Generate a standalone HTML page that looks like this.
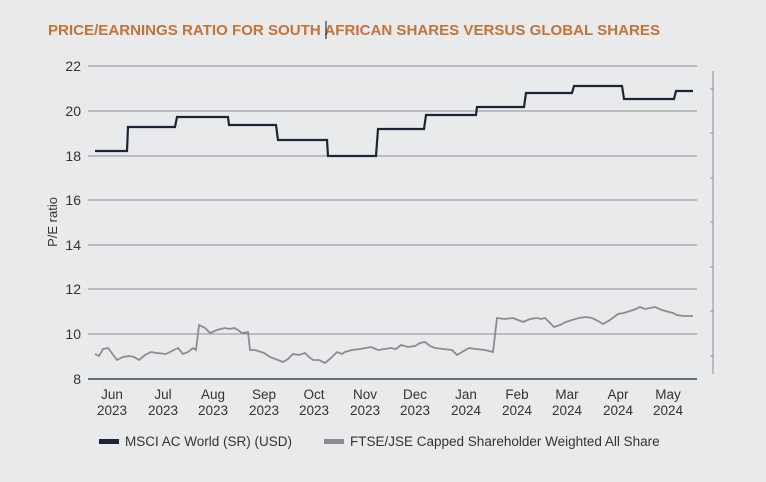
<!DOCTYPE html><html><head><style>
body{margin:0;background:#e9eaec;}
svg{display:block;font-family:"Liberation Sans",sans-serif;}
</style></head><body>
<svg width="766" height="482" viewBox="0 0 766 482">
<rect width="766" height="482" fill="#e9eaec"/>
<text x="48" y="35" font-size="15" font-weight="bold" fill="#c47236" textLength="612" lengthAdjust="spacingAndGlyphs">PRICE/EARNINGS RATIO FOR SOUTH AFRICAN SHARES VERSUS GLOBAL SHARES</text>
<line x1="326" y1="21" x2="326" y2="39" stroke="#111" stroke-width="1"/>
<g stroke="#8a8d92" stroke-width="1">
<line x1="88" y1="66" x2="697" y2="66"/><line x1="88" y1="111" x2="697" y2="111"/>
<line x1="88" y1="156" x2="697" y2="156"/><line x1="88" y1="200" x2="697" y2="200"/>
<line x1="88" y1="245" x2="697" y2="245"/><line x1="88" y1="289" x2="697" y2="289"/>
<line x1="88" y1="334" x2="697" y2="334"/>
<line x1="713" y1="71" x2="713" y2="374"/>
<line x1="710" y1="89" x2="713" y2="89"/><line x1="710" y1="133" x2="713" y2="133"/>
<line x1="710" y1="178" x2="713" y2="178"/><line x1="710" y1="222" x2="713" y2="222"/>
<line x1="710" y1="267" x2="713" y2="267"/><line x1="710" y1="311" x2="713" y2="311"/>
<line x1="710" y1="356" x2="713" y2="356"/>
</g>
<line x1="88" y1="379" x2="697" y2="379" stroke="#1c2333" stroke-width="1.3"/>
<g font-size="14" fill="#333" text-anchor="end">
<text x="81" y="71">22</text><text x="81" y="116">20</text><text x="81" y="161">18</text>
<text x="81" y="205">16</text><text x="81" y="250">14</text><text x="81" y="294">12</text>
<text x="81" y="339">10</text><text x="81" y="384">8</text>
</g>
<text transform="translate(57,222) rotate(-90)" font-size="13" fill="#333" text-anchor="middle">P/E ratio</text>
<g font-size="13.5" fill="#333" text-anchor="middle">
<text x="112" y="399">Jun</text><text x="112" y="415">2023</text>
<text x="163" y="399">Jul</text><text x="163" y="415">2023</text>
<text x="213" y="399">Aug</text><text x="213" y="415">2023</text>
<text x="264" y="399">Sep</text><text x="264" y="415">2023</text>
<text x="314" y="399">Oct</text><text x="314" y="415">2023</text>
<text x="365" y="399">Nov</text><text x="365" y="415">2023</text>
<text x="415" y="399">Dec</text><text x="415" y="415">2023</text>
<text x="466" y="399">Jan</text><text x="466" y="415">2024</text>
<text x="517" y="399">Feb</text><text x="517" y="415">2024</text>
<text x="567" y="399">Mar</text><text x="567" y="415">2024</text>
<text x="618" y="399">Apr</text><text x="618" y="415">2024</text>
<text x="668" y="399">May</text><text x="668" y="415">2024</text>
</g>
<polyline fill="none" stroke="#1c2538" stroke-width="2.2" points="95,151 127,151 128,127 175,127 177,117 228,117 229,125 276,125 278,140 327,140 328,156 376,156 378,129 424,129 426,115 476,115 477,107 524,107 526,93 572,93 574,86 622,86 624,99 674,99 676,91 693,91"/>
<polyline fill="none" stroke="#8a8c8f" stroke-width="1.8" points="95,354 99,356 103,349 108,348 117,360 123,357 129,356 134,357 139,360 145,355 151,352 157,353 166,354 172,351 178,348 183,354 188,352 193,348 196,350 199,325 205,328 210,333 217,330 225,328 230,329 234,328 238,330 242,333 248,332 250,350 255,350 264,353 270,357 283,362 288,359 293,354 299,355 305,353 309,357 313,360 319,360 325,363 331,358 337,352 342,354 345,352 352,350 360,349 371,347 378,350 391,348 396,349 401,345 408,347 415,346 420,343 425,342 430,346 435,348 443,349 452,350 457,355 462,352 469,348 476,349 485,350 493,352 497,318 505,319 513,318 518,320 523,322 530,319 537,318 541,319 545,318 550,323 554,327 560,325 566,322 572,320 579,318 586,317 592,318 598,321 603,324 610,320 618,314 624,313 630,311 636,309 640,307 645,309 655,307 662,310 669,312 673,313 677,315 683,316 693,316"/>
<rect x="99" y="439" width="20" height="5" fill="#1c2538"/>
<text x="125" y="446" font-size="13.5" fill="#333">MSCI AC World (SR) (USD)</text>
<rect x="324" y="439" width="20" height="5" fill="#8a8c8f"/>
<text x="350" y="446" font-size="13.5" fill="#333">FTSE/JSE Capped Shareholder Weighted All Share</text>
</svg>
</body></html>
